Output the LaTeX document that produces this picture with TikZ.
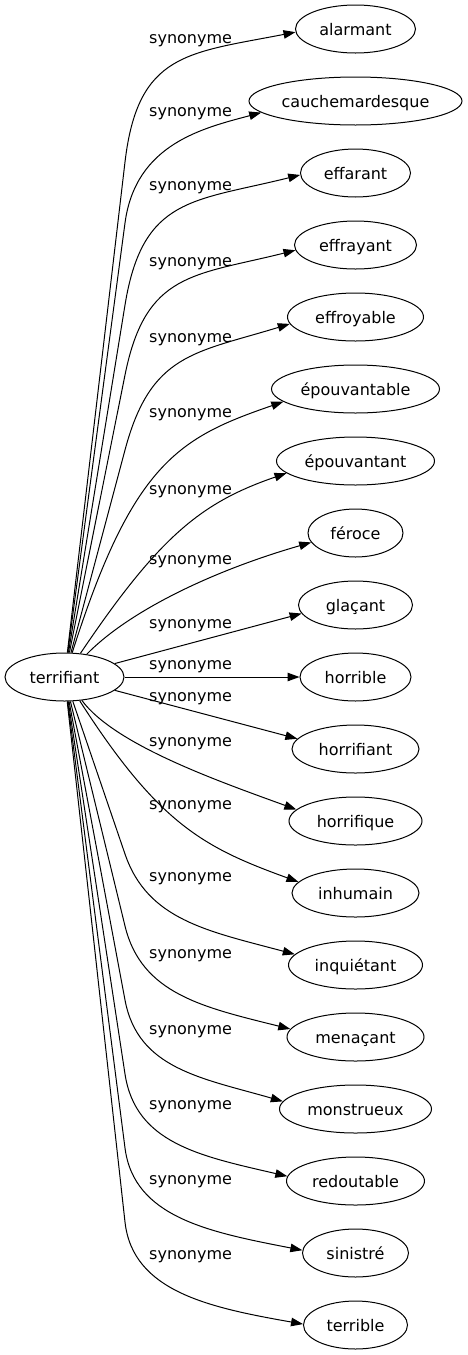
\documentclass[tikz,border=0pt]{standalone}
\usepackage{fontspec}
\setmainfont{DejaVu Sans}
\usetikzlibrary{arrows.meta,calc,shapes.geometric}
\newcommand\farsyn[6]{\draw[synarrow] (t) -- (#2) .. controls ($(#2)!-#5pt!(t.center)$) and ($(#1.#3)+(#4:#6pt)$) .. (#1.#3);}
\newcommand\midsyn[5]{\draw[synarrow] (t) .. controls (#2) and ($(#1.#3)+(#4:#5pt)$) .. (#1.#3);}
\begin{document}
\begin{tikzpicture}[x=1pt,y=1pt,
  word/.style={ellipse,draw,line width=1pt,inner sep=0pt,minimum height=48pt,text height=12pt,text depth=0pt,font=\fontsize{16}{19}\selectfont},
  lab/.style={inner sep=0pt,anchor=west,text height=12pt,text depth=0pt,font=\fontsize{16}{19}\selectfont},
  synarrow/.style={draw,line width=1pt,-{Triangle[length=12pt,width=8.5pt]}}]
\useasboundingbox (0,0) rectangle (467,-1355);
\node[word,minimum width=119pt] (t) at (64.5,-677) {terrifiant};
\node[word,minimum width=120pt] (n0) at (355.5,-29) {alarmant};
\node[word,minimum width=213pt] (n1) at (355.5,-101) {cauchemardesque};
\node[word,minimum width=110pt] (n2) at (355.5,-173) {effarant};
\node[word,minimum width=122pt] (n3) at (355.5,-245) {effrayant};
\node[word,minimum width=136pt] (n4) at (355.5,-317) {effroyable};
\node[word,minimum width=168pt] (n5) at (355.5,-389) {épouvantable};
\node[word,minimum width=158pt] (n6) at (355.5,-461) {épouvantant};
\node[word,minimum width=95pt] (n7) at (355.5,-533) {féroce};
\node[word,minimum width=114pt] (n8) at (355.5,-605) {glaçant};
\node[word,minimum width=111pt] (n9) at (355.5,-677) {horrible};
\node[word,minimum width=127pt] (n10) at (355.5,-749) {horrifiant};
\node[word,minimum width=133pt] (n11) at (355.5,-821) {horrifique};
\node[word,minimum width=127pt] (n12) at (355.5,-893) {inhumain};
\node[word,minimum width=134pt] (n13) at (355.5,-965) {inquiétant};
\node[word,minimum width=137pt] (n14) at (355.5,-1037) {menaçant};
\node[word,minimum width=152pt] (n15) at (355.5,-1109) {monstrueux};
\node[word,minimum width=138pt] (n16) at (355.5,-1181) {redoutable};
\node[word,minimum width=106pt] (n17) at (355.5,-1253) {sinistré};
\node[word,minimum width=104pt] (n18) at (355.5,-1325) {terrible};
\foreach \i/\y in {0/37,1/110,2/184,3/260,4/336,5/411,6/488,7/558,8/622,9/663,10/695,11/740,12/803,13/875,14/952,15/1028,16/1103,17/1178,18/1253}
  \node[lab] (l\i) at (149,-\y) {synonyme};
\coordinate (k0) at (125,-162);
\coordinate (k1) at (125,-223);
\coordinate (k2) at (125,-305);
\coordinate (k3) at (125,-375);
\coordinate (k4) at (125,-450);
\coordinate (k13) at (125,-854);
\coordinate (k14) at (125,-926);
\coordinate (k15) at (125,-1000);
\coordinate (k16) at (125,-1074);
\coordinate (k17) at (125,-1148);
\coordinate (k18) at (125,-1222);
\coordinate (c5) at (132.6,-462.4);
\coordinate (c6) at (159.6,-535.8);
\coordinate (c7) at (130,-610);
\coordinate (c11) at (115,-745);
\coordinate (c12) at (159.3,-825);
\farsyn{n0}{k0}{183}{191}{110}{110}
\farsyn{n1}{k1}{187}{195}{80}{60}
\farsyn{n2}{k2}{182}{194}{110}{110}
\farsyn{n3}{k3}{185}{194}{105}{105}
\farsyn{n4}{k4}{186}{197}{100}{100}
\midsyn{n5}{c5}{190}{199}{110}
\midsyn{n6}{c6}{190}{199}{90}
\midsyn{n7}{c7}{192}{196}{100}
\draw[synarrow] (t) -- (n8.189);
\draw[synarrow] (t) -- (n9);
\draw[synarrow] (t) -- (n10.170);
\midsyn{n11}{c11}{169}{160}{83}
\midsyn{n12}{c12}{169}{160}{100}
\farsyn{n13}{k13}{170}{165}{70}{90}
\farsyn{n14}{k14}{173}{166}{70}{90}
\farsyn{n15}{k15}{174}{164}{70}{85}
\farsyn{n16}{k16}{176}{167}{70}{90}
\farsyn{n17}{k17}{177}{169}{70}{95}
\farsyn{n18}{k18}{179}{170}{70}{95}
\end{tikzpicture}
\end{document}
